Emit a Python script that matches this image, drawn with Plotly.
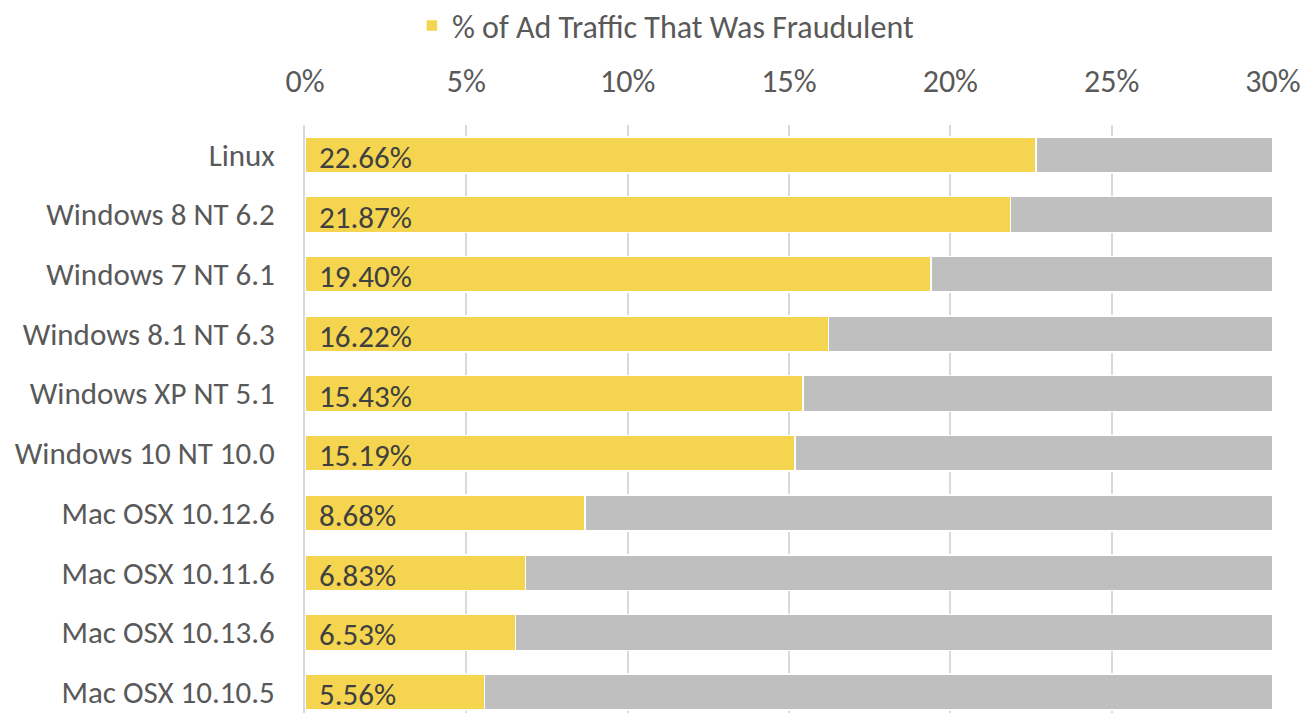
import plotly.graph_objects as go

categories = ["Linux", "Windows 8 NT 6.2", "Windows 7 NT 6.1", "Windows 8.1 NT 6.3",
              "Windows XP NT 5.1", "Windows 10 NT 10.0", "Mac OSX 10.12.6",
              "Mac OSX 10.11.6", "Mac OSX 10.13.6", "Mac OSX 10.10.5"]
fraud_pct = [22.66, 21.87, 19.40, 16.22, 15.43, 15.19, 8.68, 6.83, 6.53, 5.56]
axis_max = 30
remainder = [axis_max - v for v in fraud_pct]
tick_vals = [0, 5, 10, 15, 20, 25, 30]
tick_text = ["0%", "5%", "10%", "15%", "20%", "25%", "30%"]

FONT = "Carlito, Lato, 'Open Sans', sans-serif"

fig = go.Figure()
fig.add_trace(go.Bar(
    y=categories, x=fraud_pct, orientation="h",
    name="% of Ad Traffic That Was Fraudulent",
    marker=dict(color="#F5D54F", line=dict(color="white", width=1.5)),
    hoverinfo="x+y",
))
fig.add_trace(go.Bar(
    y=categories, x=remainder, orientation="h",
    name="Remainder", showlegend=False,
    marker=dict(color="#BFBFBF", line=dict(color="white", width=1.5)),
    hoverinfo="skip",
))

for c, v in zip(categories, fraud_pct):
    fig.add_annotation(x=0, y=c, text=f"{v:.2f}%", xanchor="left", xshift=12,
                       yshift=-2, showarrow=False,
                       font=dict(family=FONT, size=31, color="#404040"))

fig.update_layout(
    barmode="stack", bargap=0.4,
    width=1307, height=705,
    margin=dict(l=297, r=42, t=117, b=0),
    paper_bgcolor="white", plot_bgcolor="white",
    font=dict(family=FONT, size=31, color="#595959"),
    legend=dict(orientation="h", x=0.503, xref="container", xanchor="center",
                y=0.975, yref="container", yanchor="middle",
                font=dict(size=32, color="#595959")),
    xaxis=dict(side="top", range=[0, axis_max], tickvals=tick_vals, ticktext=tick_text,
               showgrid=True, gridcolor="#D9D9D9", gridwidth=1.5, zeroline=False,
               showline=False, ticks="", automargin=False, ticklabelstandoff=26,
               tickfont=dict(size=32, color="#595959")),
    yaxis=dict(categoryorder="array", categoryarray=categories,
               range=[9.35, -0.5], showgrid=False, showline=True,
               linecolor="#D9D9D9", linewidth=2, ticks="", automargin=False,
               ticklabelstandoff=22, tickfont=dict(size=31, color="#595959")),
)

fig.write_html("out.html")
